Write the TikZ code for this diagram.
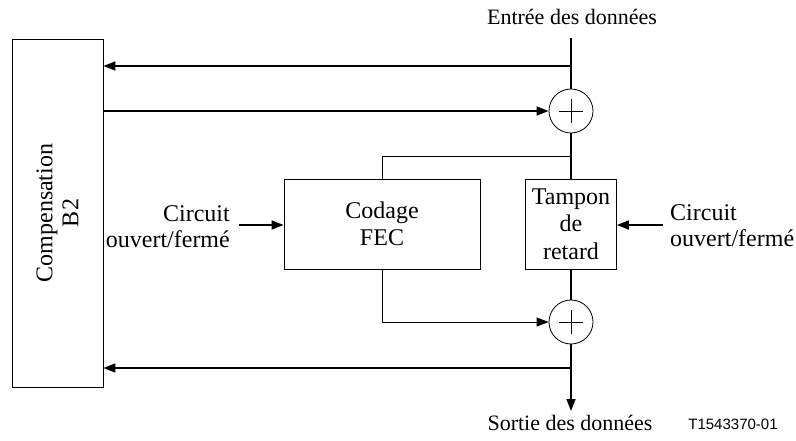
\documentclass[tikz,border=0pt]{standalone}
\usepackage{fontspec}
\setmainfont{Liberation Serif}
\newfontfamily\labelsans{Liberation Sans}
\usetikzlibrary{arrows.meta}
\begin{document}
\begin{tikzpicture}[x=1pt,y=-1pt,
 box/.style={draw,line width=0.8pt,inner sep=0pt,align=center,font=\fontsize{24}{27.5}\selectfont},
 xorc/.style={draw,circle,line width=0.8pt,minimum size=44pt,inner sep=0pt,
   path picture={\draw[line width=0.9pt]
     ([xshift=-12pt]path picture bounding box.center) -- ([xshift=12pt]path picture bounding box.center)
     ([yshift=-12pt]path picture bounding box.center) -- ([yshift=12pt]path picture bounding box.center);}},
 heavy/.style={line width=1.6pt},
 thin/.style={line width=0.8pt},
 arr/.style={-{Triangle[length=12pt,width=9pt]}},
 lbl/.style={font=\fontsize{24}{26}\selectfont,inner sep=0pt},
 iolbl/.style={font=\fontsize{22}{26}\selectfont,inner sep=0pt}
]
\useasboundingbox (0,0) rectangle (796,441);

\node[box,minimum width=91pt,minimum height=348pt] (comp) at (57.5,213) {};
\node[lbl,rotate=90,align=center] (comptext) at (57.5,213) {Compensation\\B2};
\node[xorc] (x1) at (571,111) {};
\node[xorc] (x2) at (571,322) {};
\node[box,minimum width=196pt,minimum height=90pt] (fec) at (382,224) {Codage\\FEC};
\node[box,minimum width=91pt,minimum height=90pt] (tamp) at (571,224) {Tampon\\de\\retard};

\coordinate (in) at (571,38);
\coordinate (j1) at (571,66);
\coordinate (j2) at (571,156);
\coordinate (j3) at (571,368);
\coordinate (out) at (571,411);
\coordinate (fecin) at (382,156);
\coordinate (fecout) at (382,322);
\coordinate (cla) at (239,225);
\coordinate (cra) at (663,225);

\node[iolbl] (intext) at (572,17) {Entrée des données};
\node[iolbl] (outtext) at (570,423) {Sortie des données};
\node[font=\labelsans\fontsize{15}{17}\selectfont,inner sep=0pt] (ref) at (733,424) {T1543370-01};
\node[lbl,align=right,anchor=east] (ccl) at (230,227) {Circuit\\ouvert/fermé};
\node[lbl,align=left,anchor=west] (ccr) at (670,226) {Circuit\\ouvert/fermé};

\draw[heavy] (in) -- (x1.north);
\draw[heavy,arr] (j1) -- (j1 -| comp.east);
\draw[heavy,arr] (comp.east |- x1) -- (x1.west);
\draw[heavy] (x1.south) -- (tamp.north);
\draw[thin] (j2) -- (fecin) -- (fec.north);
\draw[thin] (fec.south) -- (fecout);
\draw[thin,arr] (fecout) -- (x2.west);
\draw[heavy] (tamp.south) -- (x2.north);
\draw[heavy,arr] (x2.south) -- (out);
\draw[heavy,arr] (j3) -- (j3 -| comp.east);
\draw[heavy,arr] (cla) -- (cla -| fec.west);
\draw[heavy,arr] (cra) -- (cra -| tamp.east);
\end{tikzpicture}
\end{document}
